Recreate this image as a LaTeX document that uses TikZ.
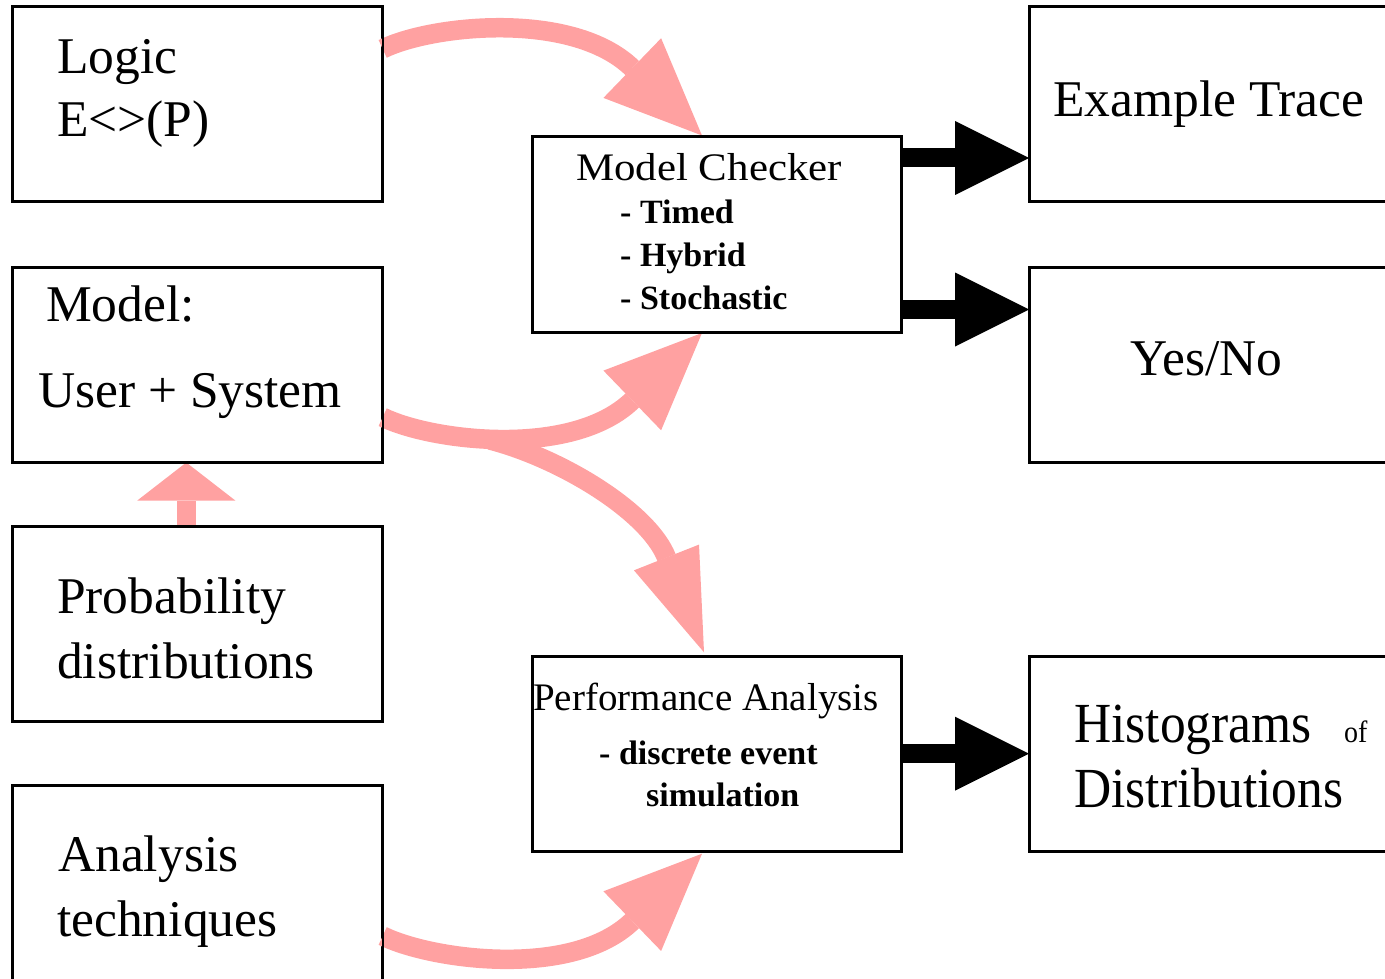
\documentclass[tikz,border=0pt]{standalone}
\usepackage{fontspec}
\usepackage{graphicx}
\setmainfont{Liberation Serif}
\usetikzlibrary{arrows.meta,calc}
\definecolor{flowpink}{RGB}{255,161,161}

\begin{document}
\begin{tikzpicture}[x=1pt,y=1pt,
  box/.style={draw=black, line width=2pt, rectangle, minimum width=368.4pt,
              minimum height=194pt, inner sep=0pt},
  big/.style={anchor=base west, inner sep=0pt, font=\fontsize{51.5}{60}\selectfont},
  mid/.style={anchor=base west, inner sep=0pt, font=\fontsize{39}{46}\selectfont},
  small/.style={anchor=base west, inner sep=0pt, font=\fontsize{28}{32}\selectfont},
  item/.style={anchor=base west, inner sep=0pt, font=\fontsize{34}{40}\selectfont\bfseries},
  flow/.style={draw=flowpink, line width=19.5pt},
  pinkhead/.style={-{Triangle[length=97pt,width=83pt,line width=0pt]}},
  result/.style={draw=black, line width=19pt,
                 -{Triangle[length=74pt,width=74pt,line width=0pt]}},
]
\useasboundingbox (0,0) rectangle (1385,-979);
\clip (0,0) rectangle (1385,-979);

% frames (empty nodes, so that the connectors can use their anchors)
\node[box] (logic) at (197.5,-104.2) {};
\node[box] (model) at (197.5,-364.5) {};
\node[box] (prob)  at (197.5,-623.5) {};
\node[box] (ana)   at (197.5,-883.0) {};
\node[box] (mc)    at (716.9,-234.5) {};
\node[box] (pa)    at (716.9,-753.7) {};
\node[box] (trace) at (1214.2,-104.2) {};
\node[box] (yn)    at (1214.2,-364.5) {};
\node[box] (hist)  at (1214.2,-753.7) {};

% start, head-base and tip points of the pink flows
\coordinate (s1) at ($(logic.north east)+(0,-42.7)$);
\coordinate (e1) at ($(mc.north west)+(170.3,1)$);
\coordinate (b1) at ($(e1)+(-69.7,67.4)$);
\coordinate (s2) at ($(model.north east)+(0,-150.7)$);
\coordinate (e2) at ($(mc.south west)+(170.3,-0.5)$);
\coordinate (b2) at ($(e2)+(-69.7,-67.4)$);
\coordinate (fork) at (490,-440);
\coordinate (e3) at ($(pa.north west)+(172.3,3.4)$);
\coordinate (b3) at ($(e3)+(-37.5,94.8)$);
\coordinate (s4) at ($(ana.north east)+(0,-151)$);
\coordinate (e4) at ($(pa.south west)+(170.3,-2)$);
\coordinate (b4) at ($(e4)+(-69.7,-67.4)$);

% pink flows into the two tools
\draw[flow,pinkhead] (s1) .. controls +(49,24) and +(-60,58) .. (b1) -- (e1);
\draw[flow,pinkhead] (s2) .. controls +(49,-24) and +(-60,-58) .. (b2) -- (e2);
\draw[flow,-{Triangle[length=102pt,width=70pt,line width=0pt]}]
  (fork) .. controls +(70,-18) and +(-18.5,46.5) .. (b3) -- (e3);
\draw[flow,pinkhead] (s4) .. controls +(49,-24) and +(-60,-58) .. (b4) -- (e4);
\draw[flow,-{Triangle[length=38pt,width=98pt,line width=0pt]}]
  ($(prob.north west)+(174,0)$) -- ($(model.south west)+(174,0)$);

% black result arrows
\coordinate (r1) at ($(mc.north east)+(0,-21.5)$);
\coordinate (r2) at ($(mc.north east)+(0,-173)$);
\draw[result] (r1) -- (trace.west |- r1);
\draw[result] (r2) -- (yn.west |- r2);
\draw[result] (pa.east) -- (hist.west |- pa.east);

% frames again, on top of the flows
\foreach \n in {logic,model,prob,ana,mc,pa,trace,yn,hist}
  \draw[line width=2pt] (\n.north west) rectangle (\n.south east);

% texts
\node[big] (logicA) at (57,-73.3) {Logic};
\node[big] (logicB) at (57,-136.7) {E<>(P)};
\node[big] (modelA) at (46,-321) {Model:};
\node[big] (modelB) at (38,-407.7) {User + System};
\node[big] (probA) at (57,-613.5) {Probability};
\node[big] (probB) at (57,-678) {distributions};
\node[big] (anaA) at (58,-871.7) {Analysis};
\node[big] (anaB) at (57,-936.7) {techniques};
\node[mid] (mcA) at (576,-180.7) {\scalebox{1.1}[1]{Model Checker}};
\node[item] (mcB) at (620,-223.3) {- Timed};
\node[item] (mcC) at (620,-266.7) {- Hybrid};
\node[item] (mcD) at (620,-309) {- Stochastic};
\node[mid] (paA) at (533,-710) {Performance Analysis};
\node[item] (paB) at (599,-764.3) {- discrete event};
\node[item] (paC) at (646,-806.7) {simulation};
\node[big] (traceA) at (1053,-117) {Example Trace};
\node[big] (ynA) at (1130,-375.5) {Yes/No};
\node[big] (histA) at (1074,-742.7) {\scalebox{1}[1.1]{Histograms}};
\node[small] (histB) at (1344,-742.7) {\scalebox{1}[1.1]{of}};
\node[big] (histC) at (1074,-807.3) {\scalebox{1}[1.1]{Distributions}};
\end{tikzpicture}
\end{document}
